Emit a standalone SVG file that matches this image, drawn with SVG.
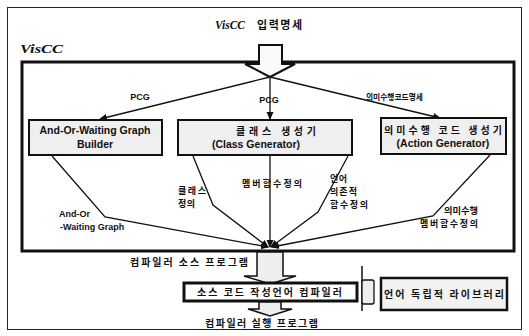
<svg xmlns="http://www.w3.org/2000/svg" width="529" height="336" viewBox="0 0 529 336">
<defs>
<marker id="ah" markerWidth="8" markerHeight="8" refX="7" refY="4" orient="auto" markerUnits="userSpaceOnUse">
<path d="M0,0.5 L8,4 L0,7.5 z" fill="#111"/>
</marker>
<style>
.t{font-family:"Liberation Sans","Noto Sans CJK KR",sans-serif;font-weight:bold;fill:#111}
.k{font-family:"Noto Sans CJK KR","Liberation Sans",sans-serif;font-weight:bold;fill:#111}
.ti{font-family:"Liberation Serif","Noto Sans CJK KR",serif;font-weight:bold;font-style:italic;fill:#111}
.box{fill:#efefef;stroke:#111;stroke-width:2}
.ln{fill:none;stroke:#111;stroke-width:1.3}
.blk{fill:#eeeeee;stroke:#111;stroke-width:1.5}
</style>
</defs>
<rect x="0" y="0" width="529" height="336" fill="#fff"/>
<rect x="7.5" y="7.5" width="514" height="322" fill="none" stroke="#222" stroke-width="1"/>
<g id="title">
<text class="ti" x="215" y="29" font-size="12" textLength="30" lengthAdjust="spacingAndGlyphs">VisCC</text>
<text class="k" x="257" y="29" font-size="11" textLength="45" lengthAdjust="spacing">입력명세</text>
</g>
<g id="visccLabel"><text class="ti" x="20" y="53" font-size="13" textLength="43" lengthAdjust="spacingAndGlyphs">VisCC</text></g>
<g id="viscc"><rect x="22" y="62" width="492" height="189" fill="none" stroke="#111" stroke-width="3"/></g>
<g id="inputArrow"><polygon points="259,45 282,45 282,64 295,64 270,77 245,64 259,64" fill="#fafafa" stroke="#111" stroke-width="2"/></g>

<g id="connectors">
<path class="ln" d="M270,77 L100,119" marker-end="url(#ah)"/>
<path class="ln" d="M270,77 L270,119" marker-end="url(#ah)"/>
<path class="ln" d="M270,77 L440,118" marker-end="url(#ah)"/>
<path class="ln" d="M52,156 L105,217 L268,247" marker-end="url(#ah)"/>
<path class="ln" d="M193,156 L213,205 L268,247" marker-end="url(#ah)"/>
<path class="ln" d="M270,156 L270,247" marker-end="url(#ah)"/>
<path class="ln" d="M348,156 L318,212 L271,247" marker-end="url(#ah)"/>
<path class="ln" d="M490,155 L433,216 L272,247" marker-end="url(#ah)"/>
</g>

<g id="labels">
<text class="t" x="140" y="100" font-size="9" text-anchor="middle">PCG</text>
<text class="t" x="269" y="103" font-size="9" text-anchor="middle">PCG</text>
<text class="k" x="366" y="100" font-size="8.5" textLength="57" lengthAdjust="spacingAndGlyphs">의미수행코드명세</text>
<text class="k" x="178" y="194" font-size="9" textLength="28" lengthAdjust="spacing">클래스</text>
<text class="k" x="178" y="207" font-size="9" textLength="17" lengthAdjust="spacing">정의</text>
<text class="k" x="242" y="187" font-size="9" textLength="60" lengthAdjust="spacing">멤버함수정의</text>
<text class="k" x="330" y="182" font-size="9" textLength="17" lengthAdjust="spacing">언어</text>
<text class="k" x="330" y="195" font-size="9" textLength="27" lengthAdjust="spacing">의존적</text>
<text class="k" x="330" y="208" font-size="9" textLength="38" lengthAdjust="spacing">함수정의</text>
<text class="k" x="444" y="214" font-size="9" textLength="34" lengthAdjust="spacingAndGlyphs">의미수행</text>
<text class="k" x="420" y="227" font-size="9" textLength="58" lengthAdjust="spacing">멤버함수정의</text>
<text class="t" x="59" y="217" font-size="9">And-Or</text>
<text class="t" x="60" y="230" font-size="9">-Waiting Graph</text>
<text class="k" x="130" y="266" font-size="10" textLength="118" lengthAdjust="spacing">컴파일러 소스 프로그램</text>
<text class="k" x="205" y="327" font-size="10" textLength="113" lengthAdjust="spacing">컴파일러 실행 프로그램</text>
</g>

<g id="builder">
<rect class="box" x="29" y="120" width="133" height="35"/>
<text class="t" x="95" y="134" font-size="10.5" text-anchor="middle">And-Or-Waiting Graph</text>
<text class="t" x="95" y="148" font-size="10.5" text-anchor="middle">Builder</text>
</g>
<g id="classGen">
<rect class="box" x="178" y="120" width="174" height="35"/>
<text class="k" x="236" y="135" font-size="10" textLength="80" lengthAdjust="spacing">클래스 생성기</text>
<text class="t" x="256" y="148" font-size="10.5" text-anchor="middle">(Class Generator)</text>
</g>
<g id="actionGen">
<rect class="box" x="381" y="118" width="125" height="36"/>
<text class="k" x="384" y="134" font-size="10" textLength="118" lengthAdjust="spacing">의미수행 코드 생성기</text>
<text class="t" x="443" y="147" font-size="10.5" text-anchor="middle">(Action Generator)</text>
</g>

<g id="srcArrow"><polygon class="blk" points="257,252 283,252 283,276 296,276 270,284 244,276 257,276"/></g>
<g id="compiler">
<rect x="184" y="283" width="173" height="18" fill="#fff" stroke="#111" stroke-width="3"/>
<text class="k" x="197" y="296" font-size="10" textLength="145" lengthAdjust="spacing">소스 코드 작성언어 컴파일러</text>
</g>
<g id="exeArrow"><polygon class="blk" points="259,302 281,302 281,309 292,309 270,316 248,309 259,309"/></g>
<g id="plug">
<line x1="362" y1="266" x2="362" y2="311" stroke="#111" stroke-width="1.5"/>
<rect x="362" y="280" width="12" height="24" rx="2" fill="#eee" stroke="#111" stroke-width="1.3"/>
</g>
<g id="library">
<rect x="381" y="278" width="126" height="32" fill="#f2f2f2" stroke="#111" stroke-width="2.5"/>
<text class="k" x="384" y="298" font-size="10" textLength="120" lengthAdjust="spacing">언어 독립적 라이브러리</text>
</g>
</svg>
